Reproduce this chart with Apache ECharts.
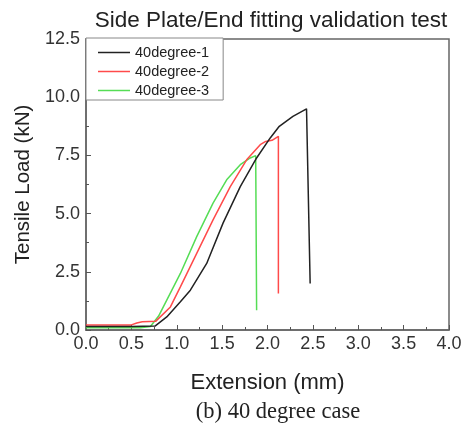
<!DOCTYPE html>
<html>
<head>
<meta charset="utf-8">
<script src="https://cdn.jsdelivr.net/npm/echarts@6/dist/echarts.min.js"></script>
<style>
  html, body { margin: 0; padding: 0; background: #fff; }
  #chart { width: 465px; height: 427px; }
</style>
</head>
<body>
<div id="chart"></div>
<script>
// readings from the figure: extension (mm) vs tensile load (kN)
const ext1 = [0, 0.5, 0.76, 0.89, 1.04, 1.15, 1.33, 1.51, 1.70, 1.88, 2.03, 2.13, 2.28, 2.43, 2.47];
const load1 = [0.15, 0.15, 0.17, 0.56, 1.21, 1.71, 2.86, 4.59, 6.16, 7.39, 8.25, 8.75, 9.18, 9.5, 2.0];

const ext2 = [0, 0.5, 0.56, 0.62, 0.77, 0.93, 1.04, 1.22, 1.40, 1.59, 1.77, 1.92, 1.98, 2.05, 2.12, 2.12];
const load2 = [0.22, 0.22, 0.3, 0.35, 0.38, 0.99, 1.85, 3.29, 4.73, 6.16, 7.31, 7.96, 8.1, 8.15, 8.32, 1.57];

const ext3 = [0, 0.6, 0.71, 0.8, 0.89, 1.04, 1.22, 1.40, 1.55, 1.70, 1.81, 1.87, 1.88];
const load3 = [0.1, 0.1, 0.15, 0.6, 1.28, 2.43, 4.01, 5.45, 6.45, 7.1, 7.39, 7.49, 0.85];

const seriesNames = ['40degree-1', '40degree-2', '40degree-3'];
const seriesColors = ['#222222', '#ff4a4a', '#55dd55'];

const font = 'Liberation Sans, Arial, sans-serif';

function pairs(xs, ys) {
    return xs.map((x, i) => [x, ys[i]]);
}

const chart = echarts.init(document.getElementById('chart'));

const allData = [pairs(ext1, load1), pairs(ext2, load2), pairs(ext3, load3)];

const option = {
    backgroundColor: '#fff',
    animation: false,
    title: {
        text: 'Side Plate/End fitting validation test',
        left: 266,
        top: 4,
        textAlign: 'center',
        textStyle: { fontFamily: font, fontSize: 22.5, fontWeight: 'normal', color: '#222' }
    },
    legend: {
        orient: 'vertical',
        left: 86,
        top: 38,
        padding: [6, 14, 1, 12],
        itemGap: 2,
        itemWidth: 32,
        itemHeight: 1.5,
        icon: 'rect',
        backgroundColor: '#fff',
        borderColor: '#888',
        borderWidth: 1,
        borderRadius: 0,
        textStyle: { fontFamily: font, fontSize: 14.5, lineHeight: 17, color: '#222' },
        data: seriesNames
    },
    grid: {
        left: 86, right: 16, top: 39, bottom: 97,
        show: true,
        borderColor: '#666',
        borderWidth: 1.5
    },
    xAxis: {
        type: 'value',
        min: 0, max: 4, interval: 0.5,
        name: 'Extension (mm)',
        nameLocation: 'middle',
        nameGap: 42,
        nameTextStyle: { fontFamily: font, fontSize: 22, color: '#222' },
        axisLine: { show: true, lineStyle: { color: '#666', width: 1.5 } },
        axisTick: { inside: true, length: 5, lineStyle: { color: '#555' } },
        minorTick: { show: true, splitNumber: 2, length: 3, lineStyle: { color: '#555' } },
        splitLine: { show: false },
        axisLabel: {
            fontFamily: font, fontSize: 18, color: '#333', margin: 5,
            formatter: v => v.toFixed(1)
        }
    },
    yAxis: {
        type: 'value',
        min: 0, max: 12.5, interval: 2.5,
        name: 'Tensile Load (kN)',
        nameLocation: 'middle',
        nameGap: 50,
        nameTextStyle: { fontFamily: font, fontSize: 20.5, color: '#222' },
        axisLine: { show: true, lineStyle: { color: '#666', width: 1.5 } },
        axisTick: { inside: true, length: 5, lineStyle: { color: '#555' } },
        minorTick: { show: true, splitNumber: 2, length: 3, lineStyle: { color: '#555' } },
        splitLine: { show: false },
        axisLabel: {
            fontFamily: font, fontSize: 18, color: '#333', margin: 6,
            formatter: v => v.toFixed(1)
        }
    },
    graphic: [
        {
            type: 'text',
            x: 278,
            y: 412,
            style: {
                text: '(b) 40 degree case',
                font: '22.5px "Liberation Serif", "Times New Roman", serif',
                fill: '#222',
                textAlign: 'center',
                textVerticalAlign: 'middle'
            }
        }
    ],
    series: seriesNames.map((name, i) => ({
        name: name,
        type: 'line',
        symbol: 'none',
        data: allData[i],
        lineStyle: { color: seriesColors[i], width: 1.5 },
        itemStyle: { color: seriesColors[i] },
        z: 3 - i
    }))
};

chart.setOption(option);
</script>
</body>
</html>
